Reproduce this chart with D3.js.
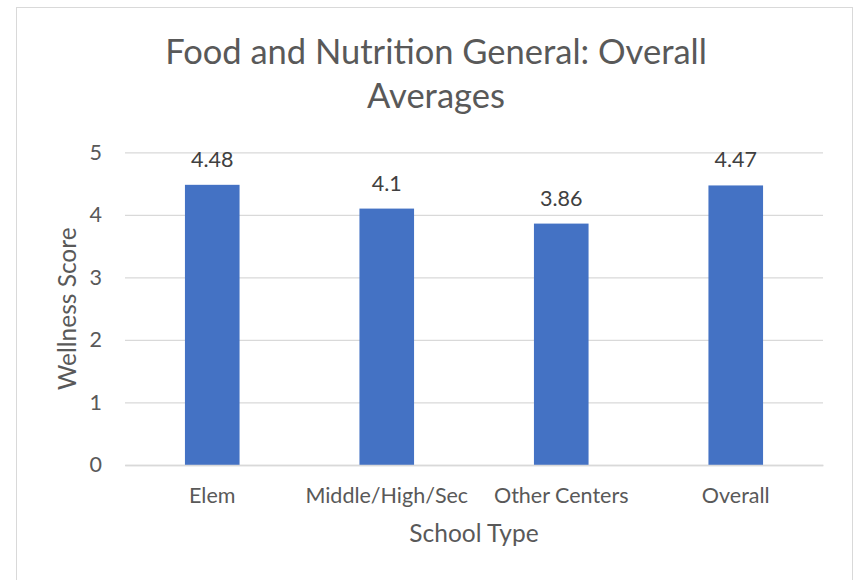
<!DOCTYPE html>
<html>
<head>
<meta charset="utf-8">
<script src="https://cdn.jsdelivr.net/npm/d3@7"></script>
<style>
  html, body { margin: 0; padding: 0; background: #fff; }
  svg { display: block; font-family: Lato, "Open Sans", sans-serif; }
</style>
</head>
<body>
<script>
const categories = ["Elem", "Middle/High/Sec", "Other Centers", "Overall"];
const values = [4.48, 4.1, 3.86, 4.47];
const valueLabels = ["4.48", "4.1", "3.86", "4.47"];
const yTicks = [0, 1, 2, 3, 4, 5];
const titleLines = ["Food and Nutrition General: Overall", "Averages"];
const xTitle = "School Type";
const yTitle = "Wellness Score";

const W = 858, H = 580;
const plot = { left: 125, right: 823, top: 152.3, bottom: 465 };
const textColor = "#595959";

const svg = d3.select("body").append("svg").attr("width", W).attr("height", H);

svg.append("rect").attr("x", 16.5).attr("y", 7.5).attr("width", 836).attr("height", 580)
  .attr("fill", "#fff").attr("stroke", "#D9D9D9").attr("stroke-width", 1);

const x = d3.scaleBand().domain(categories).range([plot.left, plot.right])
  .paddingInner(0.687).paddingOuter(0.3435);
const y = d3.scaleLinear().domain([0, 5]).range([plot.bottom, plot.top]);

// gridlines + y tick labels
const yAxis = d3.axisLeft(y).tickValues(yTicks).tickSize(-(plot.right - plot.left)).tickPadding(23).tickFormat(d3.format("d"));
const gy = svg.append("g").attr("transform", `translate(${plot.left},0)`).call(yAxis);
gy.select(".domain").remove();
gy.selectAll(".tick line").attr("stroke", "#D9D9D9").attr("stroke-width", 1.3);
gy.selectAll(".tick text").attr("fill", textColor).attr("font-size", 21.5).attr("font-family", "Lato");

// bars
svg.append("g").selectAll("rect").data(values).join("rect")
  .attr("x", (d, i) => x(categories[i]))
  .attr("width", x.bandwidth())
  .attr("y", d => y(d))
  .attr("height", d => y(0) - y(d))
  .attr("fill", "#4472C4");

// x axis
const xAxis = d3.axisBottom(x).tickSize(0).tickPadding(23);
const gx = svg.append("g").attr("transform", `translate(0,${plot.bottom})`).call(xAxis);
gx.select(".domain").attr("stroke", "#D9D9D9").attr("stroke-width", 1.3);
gx.selectAll(".tick text").attr("fill", textColor).attr("font-size", 21.5).attr("font-family", "Lato");

// value labels
svg.append("g").selectAll("text").data(values).join("text")
  .attr("x", (d, i) => x(categories[i]) + x.bandwidth() / 2)
  .attr("y", d => y(d) - 18)
  .attr("text-anchor", "middle")
  .attr("fill", "#404040")
  .attr("font-size", 21.5)
  .text((d, i) => valueLabels[i]);

// title
svg.append("g").selectAll("text").data(titleLines).join("text")
  .attr("x", 436)
  .attr("y", (d, i) => 63.5 + i * 44.5)
  .attr("text-anchor", "middle")
  .attr("fill", textColor)
  .attr("font-size", 34.5)
  .text(d => d);

// axis titles
svg.append("text").attr("x", (plot.left + plot.right) / 2).attr("y", 542)
  .attr("text-anchor", "middle").attr("fill", textColor).attr("font-size", 24.5).text(xTitle);
svg.append("text").attr("transform", `translate(76,${(plot.top + plot.bottom) / 2}) rotate(-90)`)
  .attr("text-anchor", "middle").attr("fill", textColor).attr("font-size", 24.5).text(yTitle);
</script>
</body>
</html>
